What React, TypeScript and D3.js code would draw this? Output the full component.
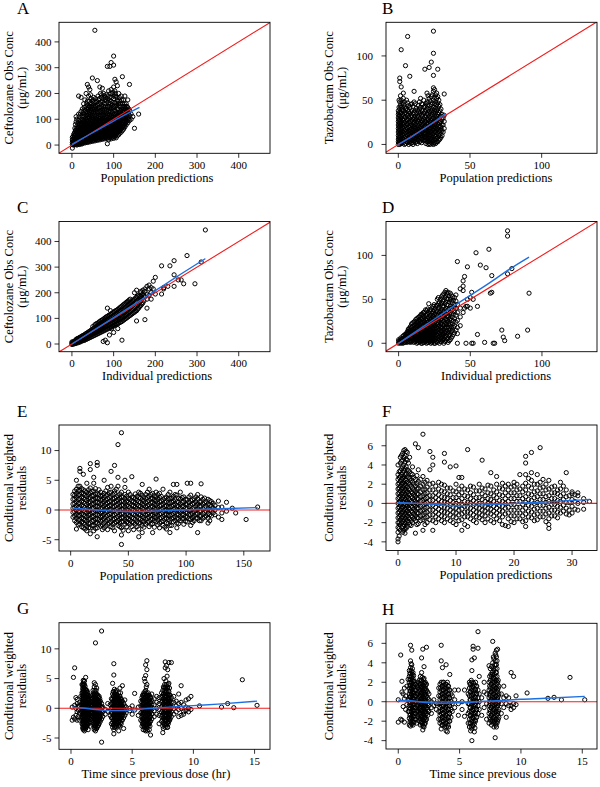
import React from "react";
import * as d3 from "d3";

type Cols = [number, number[]][];
type Pt = [number, number];

// ---------- Panel A: ceftolozane, population predictions vs observed ----------
const cefPredObs: Cols = [
  [1, [-12, 2, 10, 20, 30]], [4, [0, 6, 14, 28, 40]], [7, [3, 12, 22, 35, 50, 65]],
  [10, [5, 15, 25, 40, 55, 90, 110]], [13, [2, 10, 20, 32, 45, 60, 75]],
  [16, [8, 18, 28, 38, 50, 70, 95, 120, 190]], [19, [4, 14, 24, 34, 46, 58, 80, 100]],
  [22, [10, 20, 30, 42, 55, 68, 85, 130, 185]], [25, [6, 16, 26, 36, 48, 60, 75, 110, 140]],
  [28, [12, 22, 32, 44, 56, 70, 90, 120, 160]], [31, [8, 18, 28, 40, 52, 65, 80, 100, 135, 175]],
  [34, [14, 24, 36, 48, 60, 74, 92, 115, 150, 200]], [37, [10, 20, 32, 44, 56, 70, 86, 105, 130, 170, 235]],
  [40, [16, 28, 40, 52, 64, 78, 95, 120, 145, 190, 225]], [43, [12, 24, 36, 48, 60, 72, 88, 110, 135, 160, 215]],
  [46, [18, 30, 42, 54, 66, 80, 100, 125, 150, 180]], [49, [14, 26, 38, 50, 62, 76, 92, 115, 140, 170, 260]],
  [52, [20, 32, 44, 56, 68, 82, 100, 130, 155, 185]], [55, [16, 28, 40, 52, 64, 78, 95, 120, 145, 445]],
  [58, [22, 34, 46, 58, 70, 86, 105, 135, 165]], [61, [18, 30, 42, 54, 66, 80, 98, 125, 155, 250]],
  [64, [24, 36, 48, 60, 74, 90, 110, 140, 175]], [67, [20, 32, 44, 56, 70, 85, 102, 130, 160, 225]],
  [70, [26, 38, 50, 62, 76, 92, 115, 145, 185]], [73, [22, 34, 46, 58, 72, 88, 105, 135, 170, 220]],
  [76, [28, 40, 52, 64, 78, 95, 120, 150, 200]], [79, [24, 36, 48, 60, 74, 90, 110, 140, 175]],
  [82, [30, 42, 54, 66, 80, 98, 125, 160, 195]], [85, [5, 26, 38, 50, 62, 76, 92, 115, 145, 180, 305]],
  [88, [20, 32, 44, 56, 70, 85, 105, 130, 165, 210]], [91, [28, 40, 52, 64, 78, 95, 120, 150, 185, 305]],
  [94, [24, 36, 48, 60, 74, 90, 110, 140, 170, 215, 320]], [97, [30, 42, 54, 66, 80, 98, 125, 155, 200]],
  [100, [26, 38, 50, 62, 76, 92, 115, 145, 180, 225, 345, 310]], [103, [32, 44, 56, 70, 86, 105, 135, 165, 210, 255]],
  [106, [28, 40, 52, 66, 80, 98, 120, 150, 190, 245]], [109, [36, 48, 60, 74, 90, 110, 140, 175, 230]],
  [112, [40, 54, 68, 84, 100, 125, 160, 200]], [115, [46, 60, 76, 92, 110, 135, 170]],
  [118, [50, 66, 84, 100, 120, 150, 190]], [121, [56, 72, 90, 110, 130, 160, 265]],
  [124, [62, 80, 98, 118, 140, 175]], [127, [70, 88, 106, 128, 150, 190]],
  [130, [78, 96, 115, 135, 160]], [134, [86, 105, 125, 145, 175]], [138, [95, 115, 135, 235]],
  [142, [100, 120]], [146, [110]], [150, [65]], [160, [120]],
];
const cefPredObsCore: Cols = [
  [2.5, [4, 12, 22]], [5.5, [2, 9, 18, 30, 45]], [8.5, [8, 17, 28, 42, 58, 80]], [11.5, [0, 10, 20, 30, 48, 65, 100]],
  [14.5, [6, 14, 25, 36, 52, 68, 85]], [17.5, [2, 12, 22, 32, 44, 60, 78, 110]], [20.5, [8, 18, 28, 40, 52, 66, 90, 120]],
  [23.5, [4, 14, 24, 36, 48, 62, 78, 100]], [26.5, [10, 20, 30, 42, 54, 66, 82, 98, 125]],
  [29.5, [14, 24, 36, 48, 60, 76, 94, 110, 145]], [32.5, [10, 20, 30, 44, 56, 70, 86, 104, 125]],
  [35.5, [16, 28, 40, 52, 64, 80, 98, 120, 140, 160]], [38.5, [12, 24, 36, 48, 62, 76, 92, 112, 138, 155]],
  [41.5, [20, 32, 44, 58, 70, 86, 104, 128, 150, 170]], [44.5, [16, 28, 40, 54, 66, 80, 96, 118, 140, 195]],
  [47.5, [22, 34, 46, 58, 72, 88, 108, 132, 160]], [50.5, [18, 30, 42, 56, 70, 86, 104, 124, 148, 175]],
  [53.5, [24, 36, 48, 62, 74, 90, 110, 138, 165]], [56.5, [20, 32, 44, 56, 70, 84, 102, 126, 152, 180]],
  [59.5, [26, 38, 50, 64, 78, 94, 114, 140, 170]], [62.5, [22, 34, 46, 58, 72, 88, 106, 130, 160, 190]],
  [65.5, [28, 40, 52, 66, 80, 96, 118, 145, 180]], [68.5, [24, 36, 48, 62, 76, 92, 110, 135, 165, 200]],
  [71.5, [30, 42, 54, 68, 82, 100, 125, 155, 195]], [74.5, [26, 38, 50, 64, 80, 96, 115, 140, 180]],
  [77.5, [32, 44, 56, 70, 86, 104, 130, 160, 190]], [80.5, [28, 40, 52, 66, 82, 100, 120, 150, 185]],
  [83.5, [34, 46, 58, 72, 88, 108, 135, 170]], [86.5, [30, 42, 54, 68, 84, 100, 122, 150, 190]],
  [89.5, [36, 48, 60, 74, 90, 110, 140, 175]], [92.5, [32, 44, 58, 72, 86, 104, 130, 160, 200]],
  [95.5, [38, 50, 64, 78, 94, 116, 145, 185]], [98.5, [34, 48, 60, 74, 90, 108, 135, 165, 205]],
  [101.5, [40, 54, 68, 82, 98, 120, 150, 190]], [104.5, [46, 60, 74, 90, 110, 130, 160, 200]],
  [107.5, [44, 58, 72, 88, 104, 125, 155, 185]], [110.5, [50, 64, 80, 96, 115, 140, 170]],
  [113.5, [54, 70, 86, 104, 122, 150, 185]], [116.5, [58, 74, 92, 110, 130, 160]],
  [119.5, [64, 80, 98, 118, 140, 175]], [122.5, [70, 88, 106, 126, 150]], [125.5, [76, 94, 112, 134, 160]],
  [128.5, [84, 102, 122, 142]], [132, [92, 110, 130, 150]], [136, [100, 120, 140]],
];
const cefPredObsSmooth: Pt[] = [[0, 3], [40, 39], [80, 75], [120, 111], [162, 146]];

// ---------- Panel B: tazobactam, population predictions vs observed ----------
const tazPredObs: Cols = [
  [0, [0, 3, 6, 10, 14, 18, 22, 26, 30, 34, 38]], [1, [0, 4, 8, 12, 16, 20, 24, 28, 33, 40, 48, 71, 75]],
  [2, [1, 5, 9, 13, 17, 21, 25, 30, 36, 42, 50, 107, 65]], [3.5, [2, 6, 10, 14, 18, 22, 27, 32, 38, 45, 52, 58]],
  [5, [1, 5, 9, 13, 17, 21, 26, 31, 36, 40, 89]], [6.5, [2, 6, 10, 14, 18, 23, 28, 33, 39, 47, 122]],
  [8, [3, 7, 11, 15, 19, 24, 29, 35, 42, 77]], [9.5, [2, 6, 10, 14, 18, 22, 27, 32, 38, 46]],
  [11, [4, 8, 12, 16, 20, 25, 30, 36, 48, 60]], [12.5, [3, 7, 11, 15, 19, 24, 29, 35, 41]],
  [14, [5, 9, 13, 17, 21, 26, 31, 37, 44]], [15.5, [4, 8, 12, 16, 20, 25, 30, 36, 42, 52]],
  [17, [6, 10, 14, 18, 22, 27, 32, 38, 45]], [18.5, [5, 9, 13, 17, 21, 26, 31, 37, 43, 85]],
  [20, [3, 7, 11, 15, 19, 24, 29, 35, 41, 48, 58]], [21.5, [1, 5, 9, 13, 17, 21, 26, 31, 37, 44, 52, 87]],
  [23, [2, 6, 10, 14, 18, 22, 27, 32, 38, 45, 54, 93]], [24.5, [0, 4, 8, 12, 16, 20, 25, 30, 36, 42, 50, 60, 64, 103, 128, 78]],
  [26, [1, 5, 9, 14, 19, 24, 29, 35, 41, 48, 56]], [27.5, [3, 8, 13, 18, 23, 28, 34, 40, 47, 54, 85]],
  [29, [6, 11, 16, 21, 26, 32, 38, 45]], [30.5, [10, 16, 22, 28, 34]], [32, [18, 26, 33, 57]],
];
const tazPredObsCore: Cols = [
  [0.5, [2, 5, 8, 12, 16, 20, 24, 28, 32, 36, 42, 50]], [1.5, [2, 6, 10, 14, 18, 22, 26, 31, 36, 44, 55]],
  [2.75, [3, 7, 11, 15, 19, 23, 28, 34, 40, 47]], [4.25, [0, 4, 8, 12, 16, 20, 24, 29, 35, 42, 48]],
  [5.75, [3, 7, 11, 15, 19, 23, 28, 34, 41, 50]], [7.25, [0, 4, 8, 12, 16, 20, 25, 31, 37, 44]],
  [8.75, [1, 5, 9, 13, 17, 21, 26, 31, 37, 45]], [10.25, [0, 4, 8, 12, 16, 20, 24, 29, 35, 43]],
  [11.75, [2, 6, 10, 14, 18, 22, 27, 32, 38, 46]], [13.25, [1, 5, 9, 13, 17, 21, 26, 32, 39]],
  [14.75, [3, 7, 11, 15, 19, 23, 28, 34, 40, 48]], [16.25, [2, 6, 10, 14, 18, 22, 27, 33, 39, 46]],
  [17.75, [4, 8, 12, 16, 20, 24, 29, 35, 42, 50]], [19.25, [1, 5, 9, 13, 17, 21, 26, 32, 39, 46]],
  [20.75, [0, 3, 7, 11, 15, 19, 23, 28, 34, 40, 47, 55]], [22.25, [0, 3, 7, 11, 15, 19, 24, 29, 35, 41, 49]],
  [23.75, [1, 4, 8, 12, 16, 20, 24, 29, 34, 40, 47, 56]], [25.25, [2, 6, 10, 14, 18, 22, 27, 33, 39, 46, 53, 62]],
  [26.75, [3, 7, 11, 16, 21, 26, 32, 38, 45, 52, 58]], [28.25, [5, 10, 15, 20, 25, 30, 36, 43, 50]],
  [29.75, [8, 14, 20, 26, 32, 40]], [31.25, [14, 22, 30]],
];
const tazPredObsSmooth: Pt[] = [[0, 0], [10, 9.5], [20, 20], [28, 29], [33, 35]];

// ---------- Panel C: ceftolozane, individual predictions vs observed ----------
const cefIpredObs: Cols = [
  [0, [-2, 3, 8]], [5, [0, 5, 10]], [10, [2, 7, 12, 18]], [15, [5, 10, 15, 22]], [20, [8, 14, 20, 27]],
  [25, [12, 18, 25, 32]], [30, [14, 21, 28, 36]], [35, [18, 26, 34, 42]], [40, [22, 30, 38, 47]],
  [45, [26, 35, 44, 52]], [50, [30, 40, 49, 58, 68]], [55, [34, 44, 54, 64, 75]], [60, [38, 48, 58, 68, 80]],
  [65, [42, 53, 63, 74, 86]], [70, [46, 57, 68, 80, 92]], [75, [50, 61, 72, 84, 96, 10]],
  [80, [54, 66, 78, 90, 103, 15]], [85, [58, 70, 83, 95, 108, 5, 140]], [90, [62, 75, 88, 100, 113, 35]],
  [95, [66, 79, 92, 105, 118, 60]], [100, [70, 83, 96, 110, 124, 45]], [105, [74, 88, 101, 115, 130]],
  [110, [78, 92, 106, 120, 135, 60]], [115, [84, 98, 112, 126, 142]], [120, [88, 102, 118, 132, 148, 15]],
  [125, [94, 108, 124, 138, 155]], [130, [100, 114, 130, 145, 162]], [135, [106, 122, 138, 152, 168]],
  [140, [112, 128, 145, 160, 175]], [145, [118, 135, 152, 168]], [150, [124, 142, 158, 175, 200]],
  [155, [130, 148, 165, 182, 210, 90]], [160, [140, 158, 175, 190]], [165, [150, 170, 185, 200, 205]],
  [170, [160, 178, 195, 210]], [175, [95, 185, 205, 215]], [180, [140, 175, 195, 225]],
  [185, [190, 215, 230]], [190, [175, 200, 220]], [195, [215, 245]], [200, [260, 195]],
  [215, [305, 195]], [220, [220, 215]], [230, [225]], [235, [305]], [245, [325, 270, 225]],
  [255, [250]], [262, [250]], [268, [235]], [276, [345]], [295, [235]], [310, [320]], [320, [445]],
];
const cefIpredObsCore: Cols = [
  [2.5, [0, 4, 8]], [7.5, [3, 8, 13]], [12.5, [6, 11, 16, 21]], [17.5, [8, 13, 19, 25]], [22.5, [12, 17, 23, 29]],
  [27.5, [15, 21, 28, 34]], [32.5, [19, 25, 32, 39]], [37.5, [22, 29, 37, 44]], [42.5, [26, 34, 42, 50]],
  [47.5, [30, 38, 47, 56]], [52.5, [34, 43, 52, 62]], [57.5, [38, 47, 57, 67, 78]], [62.5, [42, 51, 61, 71, 82]],
  [67.5, [46, 56, 66, 77, 88]], [72.5, [50, 60, 71, 82, 94]], [77.5, [54, 65, 76, 88, 100]],
  [82.5, [58, 69, 81, 93, 106]], [87.5, [62, 74, 86, 98, 111]], [92.5, [66, 78, 91, 103, 116, 130]],
  [97.5, [70, 82, 95, 108, 122]], [102.5, [74, 86, 99, 113, 127]], [107.5, [78, 91, 104, 118, 132]],
  [112.5, [82, 95, 109, 123, 138]], [117.5, [86, 100, 115, 129, 145]], [122.5, [92, 106, 121, 135, 152]],
  [127.5, [98, 112, 127, 142, 158]], [132.5, [104, 119, 134, 149, 165]], [137.5, [110, 126, 142, 156, 172]],
  [142.5, [116, 132, 148, 164]], [147.5, [122, 139, 155, 172]], [152.5, [128, 145, 162, 180]],
  [157.5, [136, 153, 170, 186]], [162.5, [146, 164, 180]], [167.5, [155, 174, 192]], [172.5, [168, 188]],
];
const cefIpredObsSmooth: Pt[] = [[0, 0], [100, 103], [200, 208], [250, 261], [320, 333]];

// ---------- Panel D: tazobactam, individual predictions vs observed ----------
const tazIpredObs: Cols = [
  [0, [0, 2, 4]], [1.5, [0, 2, 4, 6]], [3, [0, 2, 5, 8]], [4.5, [1, 4, 7, 10]], [6, [1, 4, 7, 10, 13]],
  [7.5, [2, 5, 8, 11, 14, 17]], [9, [2, 5, 8, 11, 14, 18, 22]], [10.5, [1, 4, 7, 10, 13, 16, 20, 24]],
  [12, [2, 5, 8, 11, 14, 18, 22, 27]], [13.5, [1, 4, 7, 10, 13, 16, 20, 24, 29]],
  [15, [2, 5, 8, 11, 14, 18, 22, 26, 31]], [16.5, [0, 3, 6, 9, 12, 15, 19, 23, 28, 33]],
  [18, [1, 4, 7, 10, 13, 16, 20, 24, 29, 35]], [19.5, [0, 3, 6, 9, 12, 15, 18, 22, 26, 31, 37]],
  [21, [1, 4, 7, 10, 13, 17, 21, 25, 30, 35, 45]], [22.5, [0, 3, 6, 9, 12, 15, 19, 23, 27, 32, 38]],
  [24, [2, 5, 8, 11, 14, 18, 22, 26, 31, 36, 42]], [25.5, [0, 4, 8, 12, 16, 20, 24, 29, 34, 40]],
  [27, [1, 5, 9, 13, 17, 21, 26, 31, 36, 43, 50]], [28.5, [0, 4, 8, 12, 16, 20, 25, 30, 35, 41, 47]],
  [30, [2, 6, 10, 14, 18, 23, 28, 33, 39, 46, 53]], [31.5, [0, 5, 10, 15, 20, 25, 30, 36, 42, 49, 56]],
  [33, [3, 8, 13, 18, 23, 28, 34, 40, 47, 54, 60]], [34.5, [1, 6, 12, 18, 24, 30, 36, 43, 50, 58]],
  [36, [4, 10, 16, 22, 28, 35, 42, 50, 57]], [37.5, [8, 15, 22, 30, 38, 46, 53]],
  [39, [12, 20, 28, 36, 44, 52]], [41, [0, 11, 18, 26, 35, 44, 93]], [43, [20, 30, 40, 62]],
  [45, [35, 60, 71, 65]], [46, [76, 40]], [47, [0, 42]], [48, [87, 42, 50]], [50, [40, 52]],
  [51, [0, 58]], [52, [0, 50]], [54, [103]], [55, [10, 42]], [57, [89]], [60, [1]], [61, [86]],
  [63, [107]], [64, [57]], [65, [58, 77]], [66, [0]], [67, [0]], [72, [15]], [73, [7]], [74, [3]],
  [76, [128, 122, 79]], [79, [85]], [83, [8]], [90, [15]], [91, [57]],
];
const tazIpredObsCore: Cols = [
  [0.75, [1, 3]], [2.25, [1, 3, 5]], [3.75, [1, 3, 6, 9]], [5.25, [2, 5, 8, 11]], [6.75, [2, 5, 8, 11, 14, 16]],
  [8.25, [1, 3, 6, 9, 12, 15, 19]], [9.75, [3, 6, 9, 12, 15, 19, 23]], [11.25, [2, 5, 8, 11, 14, 17, 21, 25]],
  [12.75, [0, 3, 6, 9, 12, 16, 20, 24, 28]], [14.25, [2, 5, 8, 11, 14, 18, 22, 26, 30]],
  [15.75, [0, 3, 6, 9, 12, 16, 20, 24, 28, 33]], [17.25, [1, 4, 7, 10, 13, 17, 21, 26, 31, 35]],
  [18.75, [2, 5, 8, 11, 14, 18, 22, 27, 32, 38]], [20.25, [1, 4, 7, 10, 13, 16, 20, 24, 28, 33, 39]],
  [21.75, [2, 5, 8, 11, 15, 19, 23, 27, 32, 38]], [23.25, [1, 4, 7, 10, 13, 17, 21, 25, 29, 34, 40]],
  [24.75, [0, 3, 6, 10, 13, 16, 20, 24, 28, 33, 38, 44]], [26.25, [2, 6, 10, 14, 18, 22, 27, 32, 37, 43]],
  [27.75, [3, 7, 11, 15, 19, 23, 28, 33, 39, 45, 52]], [29.25, [2, 6, 10, 14, 18, 22, 27, 32, 37, 44, 50]],
  [30.75, [4, 8, 12, 17, 21, 26, 31, 36, 42, 48, 55]], [32.25, [2, 7, 12, 17, 22, 27, 32, 38, 45, 52, 58]],
  [33.75, [5, 10, 15, 21, 26, 31, 37, 44, 51, 57]], [35.25, [3, 9, 15, 21, 27, 33, 40, 47, 54]],
  [36.75, [6, 13, 19, 26, 33, 40, 48, 55]], [38.25, [10, 18, 25, 33, 41, 49]], [40, [15, 24, 32, 40, 48, 55]],
];
const tazIpredObsSmooth: Pt[] = [[0, 0], [20, 22], [40, 44], [60, 65], [80, 87], [91, 98]];

// ---------- Panel E: ceftolozane, population predictions vs CWRES ----------
const cefPredCwres: Cols = [
  [2, [-1.2, -0.4, 0.3, 1.0, 1.8, 2.6]], [5, [-2.1, -1.4, -0.7, 0, 0.7, 1.4, 2.1, 2.8, 3.5, 5.0, -3.2]],
  [8, [-2.4, -1.6, -0.9, -0.2, 0.5, 1.2, 1.9, 2.6, 3.3, 4.0, 7.0, 6.5]],
  [11, [-3.0, -2.2, -1.5, -0.8, -0.1, 0.6, 1.3, 2.0, 2.7, 3.4, 6.0]],
  [14, [-3.5, -2.7, -1.9, -1.2, -0.5, 0.2, 0.9, 1.6, 2.3, 3.0, 4.5]],
  [17, [-4.0, -3.0, -2.2, -1.4, -0.7, 0, 0.7, 1.4, 2.1, 2.9, 3.7, 7.8, 6.8]],
  [20, [-3.5, -2.6, -1.8, -1.1, -0.4, 0.3, 1.0, 1.7, 2.4, 3.2, 4.5, 5.5]],
  [23, [-4.5, -3.0, -2.2, -1.5, -0.8, -0.1, 0.6, 1.3, 2.0, 2.7, 7.5, 8.0]],
  [26, [-2.7, -1.9, -1.2, -0.5, 0.2, 0.9, 1.6, 2.3, 3.0]],
  [29, [-3.0, -2.2, -1.4, -0.7, 0, 0.7, 1.4, 2.1, 2.8, 5.0]],
  [32, [-3.3, -2.4, -1.6, -0.9, -0.2, 0.5, 1.2, 1.9, 2.6, 3.8]],
  [35, [-2.8, -2.0, -1.3, -0.6, 0.1, 0.8, 1.5, 2.2, 3.0, 6.5, 4.0]],
  [38, [-3.5, -2.2, -1.5, -0.8, -0.1, 0.6, 1.3, 2.0, 2.8, 7.5, 3.2]],
  [41, [-2.6, -1.8, -1.1, -0.4, 0.3, 1.0, 1.7, 2.4, 11.0, 5.5, 4.0]],
  [44, [-5.8, -4.2, -3.0, -2.0, -1.3, -0.6, 0.1, 0.8, 1.5, 2.2, 3.0, 13.0]],
  [47, [-2.4, -1.6, -0.9, -0.2, 0.5, 1.2, 1.9, 2.6, 3.8, 5.0]],
  [50, [-3.5, -2.2, -1.5, -0.8, -0.1, 0.6, 1.3, 2.0, 3.0]],
  [53, [-2.8, -2.0, -1.3, -0.6, 0.1, 0.8, 1.5, 2.2, 5.6]],
  [56, [-2.4, -1.6, -0.9, -0.2, 0.5, 1.2, 1.9, 2.7]],
  [59, [-4.5, -3.2, -2.2, -1.4, -0.7, 0, 0.7, 1.4, 2.1, 3.0]],
  [62, [-3.8, -2.6, -1.8, -1.1, -0.4, 0.3, 1.0, 1.7, 2.5, 4.3]],
  [65, [-2.4, -1.6, -0.9, -0.2, 0.5, 1.2, 1.9, 2.6]],
  [68, [-2.8, -1.9, -1.2, -0.5, 0.2, 0.9, 1.6, 2.3, 3.5]],
  [71, [-3.8, -2.3, -1.5, -0.8, -0.1, 0.6, 1.3, 2.0, 2.8]],
  [74, [-2.0, -1.3, -0.6, 0.1, 0.8, 1.5, 2.2, 5.2, 3.0]],
  [77, [-3.0, -2.2, -1.4, -0.7, 0, 0.7, 1.4, 2.1, 2.8]],
  [80, [-2.6, -1.8, -1.1, -0.4, 0.3, 1.0, 1.7, 3.5]],
  [83, [-3.2, -2.2, -1.4, -0.7, 0, 0.7, 1.4, 2.2]],
  [86, [-3.8, -2.6, -1.7, -0.9, -0.2, 0.5, 1.2, 2.0, 3.0]],
  [89, [-2.0, -1.3, -0.6, 0.1, 0.8, 1.5, 2.3, 4.3]],
  [92, [-3.0, -2.2, -1.4, -0.7, 0, 0.7, 1.4, 2.5, 4.3]],
  [95, [-1.8, -1.1, -0.4, 0.3, 1.0, 1.8, 3.0]], [98, [-2.4, -1.5, -0.8, -0.1, 0.6, 1.4, 2.2]],
  [101, [-2.0, -1.2, -0.5, 0.2, 0.9, 1.7, 4.5]], [104, [-2.6, -1.6, -0.8, 0, 0.8, 1.6, 2.5, 4.5]],
  [107, [-1.8, -1.0, -0.3, 0.4, 1.1, 1.9]], [110, [-3.8, -1.4, -0.6, 0.2, 1.0, 1.8, 2.6]],
  [113, [-1.8, -1.0, -0.2, 0.6, 1.4, 4.4, 2.2]], [116, [-1.2, -0.4, 0.4, 1.2, 2.0]],
  [119, [-2.2, -1.4, -0.6, 0.2, 1.0, 1.8]], [122, [-1.0, -0.2, 0.6, 1.4]], [125, [-0.8, 0, 0.8]],
  [128, [-1.2, 0.4, 1.5]], [131, [-1.6, -0.5, 0.5]], [135, [1.3, -0.2]], [140, [0.3]],
  [143, [-0.5]], [152, [-1.6]], [162, [0.5]],
];
const cefPredCwresCore: Cols = [
  [3.5, [-1.8, -1.0, -0.3, 0.4, 1.1, 1.8, 2.5, 3.2]], [6.5, [-2.5, -1.7, -1.0, -0.3, 0.4, 1.1, 1.8, 2.5, 3.2, 4.0]],
  [9.5, [-2.8, -2.0, -1.3, -0.6, 0.1, 0.8, 1.5, 2.2, 2.9, 3.6]], [12.5, [-3.2, -2.4, -1.7, -1.0, -0.3, 0.4, 1.1, 1.8, 2.5, 3.2]],
  [15.5, [-3.0, -2.3, -1.6, -0.9, -0.2, 0.5, 1.2, 1.9, 2.6, 3.4]], [18.5, [-2.6, -1.9, -1.1, -0.4, 0.3, 1.0, 1.7, 2.4, 3.1]],
  [21.5, [-3.1, -2.2, -1.5, -0.8, -0.1, 0.6, 1.3, 2.0, 2.7, 3.6]], [24.5, [-2.4, -1.6, -0.9, -0.2, 0.5, 1.2, 1.9, 2.6, 3.4]],
  [27.5, [-3.3, -2.5, -1.7, -1.0, -0.3, 0.4, 1.1, 1.8, 2.5]], [30.5, [-2.7, -1.9, -1.1, -0.4, 0.3, 1.0, 1.7, 2.4, 3.2]],
  [33.5, [-2.2, -1.4, -0.7, 0, 0.7, 1.4, 2.1, 2.9]], [36.5, [-3.0, -2.4, -1.6, -0.9, -0.2, 0.5, 1.2, 1.9, 2.6]],
  [39.5, [-2.0, -1.3, -0.6, 0.1, 0.8, 1.5, 2.2, 3.5]], [42.5, [-2.8, -2.2, -1.5, -0.8, -0.1, 0.6, 1.3, 2.0, 2.7]],
  [45.5, [-3.4, -2.0, -1.3, -0.6, 0.1, 0.8, 1.5, 2.2]], [48.5, [-2.8, -2.0, -1.3, -0.6, 0.1, 0.8, 1.5, 2.3]],
  [51.5, [-2.4, -1.7, -1.0, -0.3, 0.4, 1.1, 1.8, 2.6]], [54.5, [-3.3, -2.1, -1.4, -0.7, 0, 0.7, 1.4, 2.1]],
  [57.5, [-2.8, -2.0, -1.2, -0.5, 0.2, 0.9, 1.6, 2.3]], [60.5, [-2.2, -1.5, -0.8, -0.1, 0.6, 1.3, 2.0, 2.8]],
  [63.5, [-2.9, -2.0, -1.3, -0.6, 0.1, 0.8, 1.5, 2.2]], [66.5, [-2.1, -1.4, -0.7, 0, 0.7, 1.4, 2.1, 3.0]],
  [69.5, [-2.4, -1.6, -0.9, -0.2, 0.5, 1.2, 1.9, 2.6]], [72.5, [-2.9, -1.8, -1.1, -0.4, 0.3, 1.0, 1.7, 2.4]],
  [75.5, [-2.5, -1.7, -1.0, -0.3, 0.4, 1.1, 1.8, 2.6]], [78.5, [-2.0, -1.3, -0.6, 0.1, 0.8, 1.5, 2.3]],
  [81.5, [-2.9, -1.5, -0.8, -0.1, 0.6, 1.3, 2.0]], [84.5, [-2.3, -1.6, -0.9, -0.2, 0.5, 1.2, 1.9, 2.6]],
  [87.5, [-2.6, -1.5, -0.8, -0.1, 0.6, 1.3, 2.0]], [90.5, [-1.8, -1.1, -0.4, 0.3, 1.0, 1.7, 2.6]],
  [93.5, [-2.3, -1.5, -0.8, -0.1, 0.6, 1.3, 2.0]], [96.5, [-1.5, -0.8, -0.1, 0.6, 1.3, 2.1]],
  [99.5, [-1.9, -1.1, -0.4, 0.3, 1.0, 1.8]], [102.5, [-1.5, -0.8, -0.1, 0.6, 1.3, 2.2]],
  [105.5, [-2.1, -1.3, -0.6, 0.2, 1.0, 1.7]], [108.5, [-1.4, -0.7, 0, 0.7, 1.4, 2.2]],
  [111.5, [-1.8, -1.0, -0.2, 0.6, 1.4]], [114.5, [-1.4, -0.6, 0.2, 1.0, 1.8]], [117.5, [-1.0, -0.2, 0.6, 1.4]],
  [120.5, [-1.8, -0.8, 0, 0.8, 1.6]], [123.5, [-0.5, 0.3, 1.1]],
];
const cefPredCwresSmooth: Pt[] = [[2, 0.3], [20, 0.05], [40, -0.2], [55, -0.3], [70, -0.2], [90, -0.05], [110, 0.1], [130, 0.2], [162, 0.4]];

// ---------- Panel F: tazobactam, population predictions vs CWRES ----------
const tazPredCwres: Cols = [
  [0, [-4.0, -3.7, -3.0, -2.5, -2.0, -1.5, -1.0, -0.5, 0, 0.5, 1.0, 1.5, 2.0, 2.5, 3.0, 4.0]],
  [0.4, [-2.8, -2.2, -1.7, -1.2, -0.7, -0.2, 0.3, 0.8, 1.3, 1.8, 2.3, 2.8, 3.4, 4.2, 4.8]],
  [0.8, [-3.0, -2.4, -1.9, -1.4, -0.9, -0.4, 0.1, 0.6, 1.1, 1.6, 2.1, 2.6, 3.2, 3.8, 4.5, 5.2]],
  [1.2, [-3.1, -2.6, -2.0, -1.5, -1.0, -0.5, 0, 0.5, 1.0, 1.5, 2.0, 2.5, 3.0, 3.6, 4.3, 5.0, 5.6]],
  [1.6, [-2.4, -1.8, -1.3, -0.8, -0.3, 0.2, 0.7, 1.2, 1.7, 2.2, 2.8, 3.5, 4.5, 5.3]],
  [2.0, [-2.2, -1.6, -1.1, -0.6, -0.1, 0.4, 0.9, 1.4, 2.0, 2.6, 3.3, 4.8]],
  [2.5, [-2.0, -1.4, -0.9, -0.4, 0.1, 0.6, 1.1, 1.6, 2.2, 3.0, 3.8]],
  [3.0, [-3.1, -1.8, -1.3, -0.8, -0.3, 0.2, 0.7, 1.2, 1.8, 2.5, 6.2]],
  [3.5, [-2.1, -1.5, -1.0, -0.5, 0, 0.5, 1.0, 1.6, 2.3, 5.8, 3.5]],
  [4.3, [-2.8, -1.7, -1.2, -0.7, -0.2, 0.3, 0.8, 1.4, 2.0, 2.8, 7.2]],
  [5.0, [-2.0, -1.4, -0.9, -0.4, 0.1, 0.6, 1.1, 1.7, 2.4]], [5.5, [5.4, 3.5]],
  [6.0, [-2.8, -1.8, -1.2, -0.7, -0.2, 0.3, 0.8, 1.4, 2.1, 4.8, 4.0]],
  [7.0, [-1.6, -1.1, -0.6, -0.1, 0.4, 0.9, 1.5, 2.2]],
  [8.0, [-2.0, -1.4, -0.9, -0.4, 0.1, 0.6, 1.2, 1.9, 5.2, 4.3]],
  [9.0, [-1.8, -1.2, -0.7, -0.2, 0.3, 0.9, 1.6, 3.8]],
  [10.0, [-2.2, -1.5, -1.0, -0.5, 0, 0.6, 1.2, 2.0, 3.9]],
  [11.0, [-2.8, -1.7, -1.1, -0.6, -0.1, 0.5, 1.1, 1.8, 2.7]],
  [12.0, [-2.4, -1.4, -0.9, -0.4, 0.1, 0.7, 1.4, 5.6]],
  [13.0, [-1.8, -1.2, -0.7, -0.2, 0.3, 0.9, 1.7]], [14.0, [-1.5, -1.0, -0.5, 0, 0.6, 1.3, 2.0]],
  [14.5, [4.5]], [15.0, [-2.0, -1.3, -0.8, -0.3, 0.2, 0.8, 1.5]],
  [16.0, [-1.8, -1.1, -0.6, -0.1, 0.4, 1.0, 1.8, 3.2]], [17.0, [-1.6, -1.0, -0.5, 0, 0.6, 1.2, 2.0, 2.8]],
  [18.0, [-2.2, -1.4, -0.8, -0.3, 0.2, 0.8, 1.5, 2.1]], [19.0, [-2.4, -1.6, -1.0, -0.4, 0.2, 0.8, 1.4, 2.0]],
  [20.0, [-2.0, -1.3, -0.7, -0.1, 0.5, 1.1, 1.8, 2.2]], [21.0, [-1.6, -1.0, -0.4, 0.2, 0.8, 1.5, 3.0]],
  [22.0, [-2.4, -1.8, -1.1, -0.5, 0.1, 0.7, 1.4, 2.1, 4.9, 4.2, 3.0]],
  [23.0, [-1.5, -0.9, -0.3, 0.3, 0.9, 1.6, 2.4, 5.3, 3.2]], [24.0, [-1.7, -1.1, -0.5, 0.1, 0.7, 1.3, 2.0, 3.0]],
  [24.5, [5.8]], [25.0, [-1.4, -0.8, -0.2, 0.4, 1.0, 1.7, 2.5]],
  [26.0, [-2.6, -2.2, -1.6, -1.0, -0.4, 0.2, 0.8, 1.5, 2.4]], [27.0, [-1.3, -0.7, -0.1, 0.5, 1.1, 1.8]],
  [28.0, [-1.0, -0.4, 0.2, 0.8, 1.5, 2.2]], [29.0, [-1.1, -0.5, 0.1, 0.7, 1.4, 3.2]],
  [30.0, [-1.0, -0.3, 0.4, 1.0, 1.2]], [31.0, [-0.7, 0, 0.8, 1.1]], [32.0, [-0.6, 0.1, 0.5]], [33.0, [0.2]],
];
const tazPredCwresCore: Cols = [
  [0.2, [-3.4, -2.6, -2.0, -1.4, -0.9, -0.4, 0.1, 0.6, 1.1, 1.6, 2.1, 2.7, 3.3]],
  [0.6, [-2.5, -2.0, -1.5, -1.0, -0.5, 0, 0.5, 1.0, 1.5, 2.0, 2.5, 3.0, 3.6, 4.4, 5.0]],
  [1.0, [-2.8, -2.2, -1.7, -1.2, -0.7, -0.2, 0.3, 0.8, 1.3, 1.8, 2.3, 2.8, 3.4, 4.0, 4.8, 5.5]],
  [1.4, [-2.6, -2.1, -1.6, -1.1, -0.6, -0.1, 0.4, 0.9, 1.4, 1.9, 2.4, 3.0, 3.8, 4.6, 5.4]],
  [1.8, [-2.0, -1.5, -1.0, -0.5, 0, 0.5, 1.0, 1.5, 2.1, 2.7, 3.4, 4.2]],
  [2.25, [-2.3, -1.8, -1.3, -0.8, -0.3, 0.2, 0.7, 1.2, 1.8, 2.4, 3.1]],
  [2.75, [-1.6, -1.1, -0.6, -0.1, 0.4, 0.9, 1.4, 2.0, 2.7]], [3.25, [-2.2, -1.5, -1.0, -0.5, 0, 0.5, 1.0, 1.5, 2.1, 2.9]],
  [3.9, [-1.8, -1.3, -0.8, -0.3, 0.2, 0.7, 1.2, 1.8, 2.5]], [4.65, [-2.2, -1.5, -1.0, -0.5, 0, 0.5, 1.0, 1.5, 2.2]],
  [5.5, [-1.7, -1.2, -0.7, -0.2, 0.3, 0.8, 1.4, 2.0]], [6.5, [-2.0, -1.4, -0.9, -0.4, 0.1, 0.6, 1.1, 1.8]],
  [7.5, [-1.8, -1.3, -0.8, -0.3, 0.2, 0.7, 1.3, 2.0]], [8.5, [-1.6, -1.0, -0.5, 0, 0.5, 1.0, 1.6]],
  [9.5, [-2.0, -1.4, -0.9, -0.4, 0.1, 0.6, 1.3]], [10.5, [-1.8, -1.2, -0.7, -0.2, 0.3, 0.9, 1.5, 2.7]],
  [11.5, [-2.2, -1.4, -0.9, -0.3, 0.2, 0.8, 1.5]], [12.5, [-1.6, -1.0, -0.5, 0, 0.5, 1.1, 1.8]],
  [13.5, [-2.0, -1.4, -0.9, -0.4, 0.1, 0.6, 1.3]], [14.5, [-1.7, -1.2, -0.7, -0.2, 0.4, 1.0, 1.6]],
  [15.5, [-1.6, -1.0, -0.5, 0, 0.5, 1.1, 1.9]], [16.5, [-2.0, -1.3, -0.8, -0.3, 0.2, 0.8, 1.4]],
  [17.5, [-1.8, -1.2, -0.7, -0.2, 0.3, 0.9, 1.6]], [18.5, [-2.3, -1.1, -0.5, 0, 0.5, 1.1, 1.8]],
  [19.5, [-1.9, -1.3, -0.7, -0.1, 0.5, 1.1, 1.7]], [20.5, [-1.6, -1.0, -0.4, 0.2, 0.8, 1.4, 2.0]],
  [21.5, [-1.9, -1.3, -0.7, -0.1, 0.5, 1.2, 1.8]], [22.5, [-1.4, -0.8, -0.2, 0.4, 1.0, 1.8, 2.6]],
  [23.5, [-1.8, -1.2, -0.6, 0, 0.6, 1.2, 2.0]], [24.5, [-1.4, -0.8, -0.2, 0.4, 1.0, 1.6, 2.2]],
  [25.5, [-1.9, -1.1, -0.5, 0.1, 0.7, 1.4, 2.0]], [26.5, [-1.3, -0.7, -0.1, 0.5, 1.1, 1.7]],
  [27.5, [-1.5, -0.9, -0.3, 0.3, 1.0, 1.4]], [28.5, [-0.8, -0.2, 0.4, 1.0, 1.8]],
  [29.5, [-1.2, -0.7, 0.1, 0.8]], [30.5, [-0.6, 0.2, 0.9]],
];
const tazPredCwresSmooth: Pt[] = [[0, 0.1], [5, -0.05], [10, -0.25], [15, -0.15], [20, 0], [25, 0.15], [30, 0.3], [33, 0.4]];

// ---------- Panel G: ceftolozane, time since previous dose vs CWRES ----------
const cefTadCwres: Cols = [
  [0.1, [-2.0, 0.2]], [0.2, [5.2, -1.5]], [0.3, [6.8, -1.8, 0.5]], [0.4, [-1.2, 1.8, 0.0]],
  [0.5, [-2.0, -0.6, 0.8, 1.5]], [0.6, [-1.4, 0.3, -0.3]], [0.7, [-0.8, 0.4, 1.0, -2.0]],
  [0.8, [-1.6, -0.5, 0.6, 2.0]], [0.9, [-2.6, -1.4, -0.6, 0.2, 1.0, 1.8, 2.6, 4.0]],
  [1.0, [-3.6, -3.0, -2.4, -1.8, -1.2, -0.6, 0, 0.6, 1.2, 1.8, 2.4, 3.0, 3.6, 4.2, 4.7]],
  [1.1, [-3.8, -3.2, -2.6, -2.0, -1.4, -0.8, -0.2, 0.4, 1.0, 1.6, 2.2, 2.8, 3.4, 4.0, 4.6]],
  [1.2, [-3.4, -2.8, -2.2, -1.6, -1.0, -0.4, 0.2, 0.8, 1.4, 2.0, 2.6, 3.2, 5.2]],
  [1.3, [-3.0, -2.4, -1.8, -1.2, -0.6, 0, 0.6, 1.2, 1.8, 2.4, 3.0]],
  [1.4, [-3.6, -2.7, -2.0, -1.4, -0.8, -0.2, 0.4, 1.0, 1.6, 2.2]],
  [1.5, [-2.2, -1.6, -1.0, -0.4, 0.2, 0.8, 1.4, 2.0]], [1.6, [-3.0, -1.8, -1.2, -0.6, 0, 0.6, 1.2, 2.2]],
  [1.7, [-1.4, -0.8, -0.2, 0.4, 1.0, 1.6]], [1.8, [-2.8, -2.0, -1.4, -0.8, -0.2, 0.4, 1.0, 1.6, 2.2, 3.0]],
  [1.9, [-3.6, -2.6, -1.8, -1.2, -0.6, 0, 0.6, 1.2, 1.8, 2.4, 3.6, 4.3]],
  [2.0, [-3.8, -3.0, -2.4, -1.8, -1.2, -0.6, 0, 0.6, 1.2, 1.8, 2.6, 11.0, 4.0]],
  [2.1, [-3.4, -2.6, -2.0, -1.4, -0.8, -0.2, 0.4, 1.0, 1.6, 2.4, 3.4]],
  [2.2, [-3.0, -2.2, -1.6, -1.0, -0.4, 0.2, 0.8, 1.4, 2.2]], [2.3, [-2.6, -1.8, -1.2, -0.6, 0, 0.6, 1.2, 2.0]],
  [2.4, [-2.2, -1.4, -0.8, -0.2, 0.4, 1.2]], [2.5, [-5.7, -1.8, -1.0, -0.4, 0.2, 0.8, 13.0]],
  [2.6, [-1.4, -0.6, 0.2]], [2.8, [-1.0, -0.2]], [3.0, [0.8, -0.5]], [3.2, [-1.2, 0.6]],
  [3.3, [-2.6, -1.6, -0.8, 0, 0.8, 1.6]], [3.4, [-3.2, -2.4, -1.6, -0.8, 0, 0.8, 1.6, 2.4, 4.2]],
  [3.5, [-4.3, -3.6, -2.8, -2.0, -1.2, -0.4, 0.4, 1.2, 2.0, 2.8, 5.6, 7.5]],
  [3.6, [-3.2, -2.4, -1.6, -0.8, 0, 0.8, 1.6, 2.4]], [3.7, [-3.0, -2.2, -1.4, -0.6, 0.2, 1.0, 1.8, 3.0]],
  [3.8, [-2.6, -1.8, -1.0, -0.2, 0.6, 1.4, 2.2]], [3.9, [-3.8, -2.4, -1.6, -0.8, 0, 0.8, 1.6, 2.6]],
  [4.0, [-3.0, -2.0, -1.2, -0.4, 0.4, 1.2, 2.0, 3.4]], [4.1, [-2.6, -1.6, -0.8, 0, 0.8, 1.6]],
  [4.2, [-2.0, -1.2, -0.4, 0.4, 1.2, 3.8]], [4.3, [-3.4, -1.6, -0.8, 0, 0.8]], [4.4, [-1.2, -0.4, 0.4, 1.4]],
  [4.5, [-0.8, 0.2]], [4.8, [-0.4, 0.0]], [5.0, [-1.0, 0.4]], [5.2, [2.5, -0.3]], [5.5, [-1.2, 0.2]],
  [5.7, [-2.0, -0.8, 0.4, 1.2]], [5.8, [-3.0, -2.2, -1.4, -0.6, 0.2, 1.0, 1.8]],
  [5.9, [-3.6, -2.6, -1.8, -1.0, -0.2, 0.6, 1.4, 2.2]], [6.0, [-3.2, -2.4, -1.6, -0.8, 0, 0.8, 1.6, 2.4, 5.0]],
  [6.1, [-3.8, -2.8, -2.0, -1.2, -0.4, 0.4, 1.2, 2.0, 3.0, 7.3, 5.5]],
  [6.2, [-3.4, -2.6, -1.8, -1.0, -0.2, 0.6, 1.4, 2.2, 4.0, 8.0, 6.5]],
  [6.3, [-3.0, -2.2, -1.4, -0.6, 0.2, 1.0, 1.8, 2.6]], [6.4, [-3.6, -2.6, -1.8, -1.0, -0.2, 0.6, 1.4, 2.2]],
  [6.5, [-4.5, -2.2, -1.4, -0.6, 0.2, 1.0, 1.8]], [6.6, [-1.8, -1.0, -0.2, 0.6, 1.4, 2.4]],
  [6.8, [-1.4, -0.4, 0.6, 1.6]], [7.0, [-1.0, 0, 1.0, 2.0]], [7.2, [-2.6, -1.2, -0.2, 0.8, 1.8]],
  [7.4, [-2.2, -1.4, -0.6, 0.2, 1.0, 1.8, 2.6]], [7.5, [-4.1, -3.0, -2.0, -1.2, -0.4, 0.4, 1.2, 2.0, 3.0]],
  [7.6, [-2.6, -1.6, -0.8, 0, 0.8, 1.6, 2.4, 3.4, 5.0]],
  [7.7, [-3.2, -2.2, -1.4, -0.6, 0.2, 1.0, 1.8, 2.6, 3.6, 7.8, 6.8]],
  [7.8, [-2.8, -2.0, -1.2, -0.4, 0.4, 1.2, 2.0, 2.8, 4.0, 7.2]],
  [7.9, [-3.2, -2.4, -1.6, -0.8, 0, 0.8, 1.6, 2.4, 3.4, 6.5]],
  [8.0, [-2.2, -1.4, -0.6, 0.2, 1.0, 1.8, 2.8, 4.2, 7.7]], [8.1, [-1.8, -1.0, -0.2, 0.6, 1.4, 2.2]],
  [8.2, [-1.4, -0.6, 0.2, 1.0, 1.8, 7.7]], [8.4, [-1.0, 0, 1.0, 2.0]], [8.6, [-0.6, 0.4, 1.2]],
  [8.8, [-1.4, -0.2, 0.8, 2.4]], [9.0, [-1.2, 0, 3.8, 1.0]], [9.2, [-0.6, 0.6, -1.0]],
  [9.4, [0.2, 1.4, -0.4]], [9.6, [0.0, -0.6, 1.6]], [9.8, [2.0, -0.2]], [10.5, [0.4]],
  [12.3, [0.2]], [12.8, [0.8]], [13.3, [0.1]], [14.0, [4.8]], [15.2, [0.5]],
];
const cefTadCwresCore: Cols = [
  [0.95, [-3.3, -2.7, -2.1, -1.5, -0.9, -0.3, 0.3, 0.9, 1.5, 2.1, 2.7, 3.3, 3.9]],
  [1.05, [-3.3, -2.7, -2.1, -1.5, -0.9, -0.3, 0.3, 0.9, 1.5, 2.1, 2.7, 3.3, 3.9, 4.5]],
  [1.15, [-3.5, -2.9, -2.3, -1.7, -1.1, -0.5, 0.1, 0.7, 1.3, 1.9, 2.5, 3.1, 3.7]],
  [1.25, [-3.1, -2.5, -1.9, -1.3, -0.7, -0.1, 0.5, 1.1, 1.7, 2.3, 2.9]],
  [1.35, [-2.7, -2.1, -1.5, -0.9, -0.3, 0.3, 0.9, 1.5, 2.1, 2.7]], [1.45, [-2.4, -1.7, -1.1, -0.5, 0.1, 0.7, 1.3, 1.9]],
  [1.85, [-2.4, -1.7, -1.1, -0.5, 0.1, 0.7, 1.3, 1.9, 2.6]], [1.95, [-3.3, -2.9, -2.1, -1.5, -0.9, -0.3, 0.3, 0.9, 1.5, 2.1, 3.0]],
  [2.05, [-3.4, -2.7, -2.1, -1.5, -0.9, -0.3, 0.3, 0.9, 1.5, 2.2, 3.0]], [2.15, [-3.1, -2.3, -1.7, -1.1, -0.5, 0.1, 0.7, 1.3, 2.0]],
  [2.25, [-2.8, -1.9, -1.3, -0.7, -0.1, 0.5, 1.1, 1.8]], [2.35, [-2.0, -1.5, -0.9, -0.3, 0.3, 0.9, 1.6]],
  [3.45, [-2.8, -2.0, -1.2, -0.4, 0.4, 1.2, 2.0, 2.8]], [3.55, [-3.2, -2.4, -1.6, -0.8, 0, 0.8, 1.6, 2.4, 3.2]],
  [3.65, [-2.8, -2.0, -1.2, -0.4, 0.4, 1.2, 2.0, 2.8]], [3.75, [-2.6, -1.8, -1.0, -0.2, 0.6, 1.4, 2.2]],
  [3.85, [-3.0, -2.2, -1.4, -0.6, 0.2, 1.0, 1.8]], [3.95, [-2.8, -2.0, -1.2, -0.4, 0.4, 1.2, 2.0]],
  [4.05, [-2.4, -1.6, -0.8, 0, 0.8, 1.6, 2.6]], [4.15, [-2.0, -1.2, -0.4, 0.4, 1.2]],
  [5.85, [-2.6, -1.8, -1.0, -0.2, 0.6, 1.4, 2.2]], [5.95, [-3.0, -2.2, -1.4, -0.6, 0.2, 1.0, 1.8, 2.6]],
  [6.05, [-3.6, -2.8, -2.0, -1.2, -0.4, 0.4, 1.2, 2.0, 2.8, 4.5]], [6.15, [-3.0, -2.2, -1.4, -0.6, 0.2, 1.0, 1.8, 2.6, 3.6]],
  [6.25, [-3.8, -2.8, -2.0, -1.2, -0.4, 0.4, 1.2, 2.0]], [6.35, [-2.6, -1.8, -1.0, -0.2, 0.6, 1.4, 2.2]],
  [6.45, [-3.0, -2.2, -1.4, -0.6, 0.2, 1.0, 1.8]], [7.55, [-3.4, -2.4, -1.6, -0.8, 0, 0.8, 1.6, 2.4, 3.6]],
  [7.65, [-2.8, -2.0, -1.2, -0.4, 0.4, 1.2, 2.0, 2.8, 4.0]], [7.75, [-2.6, -1.8, -1.0, -0.2, 0.6, 1.4, 2.2, 3.2, 4.6]],
  [7.85, [-3.2, -2.4, -1.6, -0.8, 0, 0.8, 1.6, 2.4, 3.6, 5.4]], [7.95, [-2.6, -1.8, -1.0, -0.2, 0.6, 1.4, 2.2, 3.0, 4.0]],
  [8.05, [-2.0, -1.2, -0.4, 0.4, 1.2, 2.2, 3.4]],
];
const cefTadCwresSmooth: Pt[] = [[0.1, 0.2], [1, 0.05], [2, -0.2], [3.5, -0.4], [5, -0.3], [6, -0.1], [7, 0.05], [8, 0.2], [10, 0.45], [12, 0.7], [15.2, 1.2]];

// ---------- Panel H: tazobactam, time since previous dose vs CWRES ----------
const tazTadCwres: Cols = [
  [0.0, [-2.1, 0.2]], [0.2, [4.8, -1.8]], [0.3, [2.1, 1.0, -1.9]], [0.4, [0.8, -0.5]],
  [0.5, [-2.1, 0.3, 1.4]], [0.6, [0.6, -0.8]], [0.7, [-0.3, 1.6]], [0.8, [2.3, -1.0, 0.2]],
  [0.9, [-2.4, -1.7, -1.0, -0.4, 0.2, 0.8, 1.4, 2.0, 2.6, 3.2]],
  [1.0, [-2.5, -1.9, -1.3, -0.7, -0.1, 0.5, 1.1, 1.7, 2.3, 2.9, 3.5, 4.2, 5.8]],
  [1.1, [-2.3, -1.7, -1.1, -0.5, 0.1, 0.7, 1.3, 1.9, 2.5, 3.1, 3.8, 5.3]],
  [1.2, [-2.4, -1.8, -1.2, -0.6, 0, 0.6, 1.2, 1.8, 2.4, 3.0]],
  [1.3, [-2.1, -1.5, -0.9, -0.3, 0.3, 0.9, 1.5, 2.1]], [1.4, [-1.8, -1.2, -0.6, 0, 0.6, 1.2, 1.8]],
  [1.5, [-2.2, -1.0, -0.4, 0.2, 0.8, 1.6]], [1.6, [-1.6, -1.0, -0.4, 0.2, 0.8, 1.4, 2.0]],
  [1.7, [-2.0, -1.4, -0.8, -0.2, 0.4, 1.0, 1.6, 2.2]], [1.8, [-2.4, -1.8, -1.2, -0.6, 0, 0.6, 1.2, 1.8, 2.6]],
  [1.9, [-2.1, -1.5, -0.9, -0.3, 0.3, 0.9, 1.5, 2.2, 3.0, 4.5]],
  [2.0, [-2.9, -2.2, -1.6, -1.0, -0.4, 0.2, 0.8, 1.4, 2.0, 5.4]],
  [2.1, [-2.6, -2.0, -1.4, -0.8, -0.2, 0.4, 1.0, 1.6, 2.4, 3.6]],
  [2.2, [-2.2, -1.6, -1.0, -0.4, 0.2, 0.8, 1.4, 2.0]], [2.3, [-1.8, -1.2, -0.6, 0, 0.6, 1.2, 1.8, 5.6]],
  [2.4, [-1.4, -0.8, -0.2, 0.4, 1.0]], [2.5, [-1.0, -0.4, 0.2, 0.8]], [2.7, [-0.6, 0.0, -1.2]],
  [2.9, [-0.4, 0.2]], [3.1, [-0.2, -0.8]], [3.3, [-1.8, -1.0, -0.2, 0.6, 1.4]],
  [3.4, [-2.2, -1.4, -0.6, 0.2, 1.0, 1.8]], [3.5, [-2.8, -2.0, -1.2, -0.4, 0.4, 1.2, 2.0, 4.2, 5.8]],
  [3.6, [-2.4, -1.6, -0.8, 0, 0.8, 1.6, 3.5]], [3.7, [-2.0, -1.2, -0.4, 0.4, 1.2, 2.0]],
  [3.8, [-2.6, -1.8, -1.0, -0.2, 0.6, 1.4]], [3.9, [-3.0, -2.2, -1.4, -0.6, 0.2, 1.0, 1.8, 3.8]],
  [4.0, [-3.1, -2.0, -1.2, -0.4, 0.4, 1.2, 2.0]], [4.1, [-2.6, -1.6, -0.8, 0, 0.8, 1.6]],
  [4.2, [-2.0, -1.2, -0.4, 0.4, 1.2, 2.8]], [4.3, [-1.6, -0.8, 0, 0.8]], [4.4, [-1.0, -0.2, 0.6]],
  [4.6, [-0.6, 0.2, 1.2]], [4.9, [-1.4, -0.2, 1.2]], [5.2, [0.0, -0.8]], [5.4, [1.2, -1.5]],
  [5.7, [-2.2, -1.2, -0.2, 0.8]], [5.8, [-2.6, -1.8, -1.0, -0.2, 0.6, 1.4, 2.0]],
  [5.9, [-3.0, -2.2, -1.4, -0.6, 0.2, 1.0, 1.8]], [6.0, [-4.0, -2.8, -2.0, -1.2, -0.4, 0.4, 1.2, 2.0, 4.3, 3.2]],
  [6.1, [-2.5, -1.7, -0.9, -0.1, 0.7, 1.5, 5.7, 5.4]], [6.2, [-3.1, -2.3, -1.5, -0.7, 0.1, 0.9, 1.7, 4.5]],
  [6.3, [-2.0, -1.2, -0.4, 0.4, 1.2, 2.0]], [6.4, [-1.6, -0.8, 0, 0.8, 1.6]],
  [6.5, [-1.2, -0.4, 0.4, 1.2, 7.2, 5.5]], [6.6, [-0.8, 0, 0.8, 2.6]], [6.8, [-1.4, 0.4]],
  [7.0, [-0.6, 1.0, 2.0]], [7.2, [-1.8, -0.2, 0.8]], [7.4, [-2.2, -1.2, -0.4, 0.4, 1.2, 2.0, 3.7]],
  [7.5, [-1.8, -1.0, -0.2, 0.6, 1.4, 2.2, 3.4]], [7.6, [-2.4, -1.4, -0.6, 0.2, 1.0, 1.8, 2.6, 3.6]],
  [7.7, [-2.0, -1.2, -0.4, 0.4, 1.2, 2.0, 2.8, 4.0, 6.2]],
  [7.8, [-2.6, -1.6, -0.8, 0, 0.8, 1.6, 2.4, 3.2, 4.4]],
  [7.9, [-3.7, -2.2, -1.4, -0.6, 0.2, 1.0, 1.8, 2.6, 3.4, 4.2, 5.0]],
  [8.0, [-2.6, -1.8, -1.0, -0.2, 0.6, 1.4, 2.2, 3.0, 3.8, 4.6, 5.3]],
  [8.1, [-2.0, -1.2, -0.4, 0.4, 1.2, 2.0, 5.4]], [8.2, [-1.6, -0.8, 0, 0.8, 1.6]],
  [8.4, [-1.2, -0.2, 0.8]], [8.6, [-0.6, 0.4, 1.6]], [8.8, [-1.6, -0.2, 0.6]], [9.0, [-0.4, 0.4]],
  [9.2, [-0.8, 3.0, -0.4]], [9.4, [2.6, -0.2, -0.6]], [9.6, [0.6, -0.3]], [10.5, [0.9]],
  [12.2, [0.35]], [12.7, [0.45]], [13.3, [0.2]], [14.0, [2.5]], [15.2, [0.2]],
];
const tazTadCwresCore: Cols = [
  [0.95, [-2.1, -1.4, -0.7, -0.1, 0.5, 1.1, 1.7, 2.3, 2.9]], [1.05, [-2.2, -1.6, -1.0, -0.4, 0.2, 0.8, 1.4, 2.0, 2.6, 3.2, 3.9]],
  [1.15, [-2.0, -1.4, -0.8, -0.2, 0.4, 1.0, 1.6, 2.2, 2.8, 3.4]], [1.25, [-2.1, -1.5, -0.9, -0.3, 0.3, 0.9, 1.5, 2.1, 2.7]],
  [1.35, [-1.8, -1.2, -0.6, 0, 0.6, 1.2, 1.8]], [1.75, [-1.7, -1.1, -0.5, 0.1, 0.7, 1.3, 1.9]],
  [1.85, [-2.1, -1.5, -0.9, -0.3, 0.3, 0.9, 1.5, 2.2]], [1.95, [-2.4, -1.8, -1.2, -0.6, 0, 0.6, 1.2, 1.8, 2.5]],
  [2.05, [-2.5, -1.9, -1.3, -0.7, -0.1, 0.5, 1.1, 1.7, 2.3]], [2.15, [-2.3, -1.7, -1.1, -0.5, 0.1, 0.7, 1.3, 1.9]],
  [2.25, [-1.9, -1.3, -0.7, -0.1, 0.5, 1.1, 1.7]], [3.45, [-1.8, -1.0, -0.2, 0.6, 1.4]],
  [3.55, [-2.4, -1.6, -0.8, 0, 0.8, 1.6]], [3.65, [-2.0, -1.2, -0.4, 0.4, 1.2, 2.0]],
  [3.75, [-2.4, -1.6, -0.8, 0, 0.8, 1.6]], [3.85, [-2.2, -1.4, -0.6, 0.2, 1.0, 1.8]],
  [3.95, [-2.6, -1.8, -1.0, -0.2, 0.6, 1.4]], [4.05, [-2.4, -1.6, -0.8, 0, 0.8, 1.6]],
  [4.15, [-2.0, -1.2, -0.4, 0.4, 1.2]], [5.85, [-2.2, -1.4, -0.6, 0.2, 1.0, 1.8]],
  [5.95, [-2.6, -1.8, -1.0, -0.2, 0.6, 1.4, 2.2]], [6.05, [-2.4, -1.6, -0.8, 0, 0.8, 1.6]],
  [6.15, [-2.1, -1.3, -0.5, 0.3, 1.1, 1.9]], [6.25, [-2.7, -1.9, -1.1, -0.3, 0.5, 1.3]],
  [6.35, [-1.6, -0.8, 0, 0.8, 1.6]], [7.45, [-1.6, -0.8, 0, 0.8, 1.6, 2.6]],
  [7.55, [-2.0, -1.4, -0.6, 0.2, 1.0, 1.8, 2.8]], [7.65, [-1.8, -1.0, -0.2, 0.6, 1.4, 2.2, 3.0]],
  [7.75, [-2.2, -1.6, -0.8, 0, 0.8, 1.6, 2.4, 3.4, 4.6]], [7.85, [-2.0, -1.2, -0.4, 0.4, 1.2, 2.0, 2.8, 3.8]],
  [7.95, [-2.4, -1.8, -1.0, -0.2, 0.6, 1.4, 2.2, 3.0, 3.8, 4.8]], [8.05, [-2.2, -1.4, -0.6, 0.2, 1.0, 1.8, 2.6, 3.4, 4.2]],
  [8.15, [-1.8, -1.0, -0.2, 0.6, 1.4, 2.2]],
];
const tazTadCwresSmooth: Pt[] = [[0, 0.15], [1, 0.1], [2, -0.05], [3.5, -0.15], [5, -0.1], [6, -0.05], [7, 0.05], [8, 0.1], [10, 0.25], [12, 0.35], [15.2, 0.55]];

// tick values
const ticksCef = [0, 100, 200, 300, 400];
const ticksTaz = [0, 50, 100];
const ticksPredE = [0, 50, 100, 150];
const ticksPredF = [0, 10, 20, 30];
const ticksTad = [0, 5, 10, 15];
const ticksCwresCef = [-5, 0, 5, 10];
const ticksCwresTaz = [-4, -2, 0, 2, 4, 6];

interface Spec {
  id: string;
  col: 0 | 1;
  top: number;
  bottom: number;
  xDom: [number, number];
  yDom: [number, number];
  xTicks: number[];
  yTicks: number[];
  cols: Cols;
  smooth: Pt[];
  ref: "identity" | "zero";
  ylab: string[];
  xlab: string;
  xlabCx: number;
}

const FONT = "'Liberation Serif', 'Times New Roman', serif";
const RED = "#f21c1c";
const BLUE = "#1d6fe0";

const panels: Spec[] = [
  { id: "A", col: 0, top: 22.3, bottom: 153.3, xDom: [-31, 475], yDom: [-32, 476], xTicks: ticksCef, yTicks: ticksCef, cols: [...cefPredObs, ...cefPredObsCore], smooth: cefPredObsSmooth, ref: "identity", ylab: ["Ceftolozane Obs Conc", "(μg/mL)"], xlab: "Population predictions", xlabCx: 157 },
  { id: "B", col: 1, top: 22.3, bottom: 153.3, xDom: [-8.6, 138.6], yDom: [-10, 138], xTicks: ticksTaz, yTicks: ticksTaz, cols: [...tazPredObs, ...tazPredObsCore], smooth: tazPredObsSmooth, ref: "identity", ylab: ["Tazobactam Obs Conc", "(μg/mL)"], xlab: "Population predictions", xlabCx: 496 },
  { id: "C", col: 0, top: 221.5, bottom: 351.7, xDom: [-31, 475], yDom: [-30, 478], xTicks: ticksCef, yTicks: ticksCef, cols: [...cefIpredObs, ...cefIpredObsCore], smooth: cefIpredObsSmooth, ref: "identity", ylab: ["Ceftolozane Obs Conc", "(μg/mL)"], xlab: "Individual predictions", xlabCx: 157 },
  { id: "D", col: 1, top: 221.5, bottom: 351.7, xDom: [-8.8, 138.4], yDom: [-9.6, 138.6], xTicks: ticksTaz, yTicks: ticksTaz, cols: [...tazIpredObs, ...tazIpredObsCore], smooth: tazIpredObsSmooth, ref: "identity", ylab: ["Tazobactam Obs Conc", "(μg/mL)"], xlab: "Individual predictions", xlabCx: 496 },
  { id: "E", col: 0, top: 425, bottom: 551, xDom: [-10.1, 172.7], yDom: [-6.9, 14.3], xTicks: ticksPredE, yTicks: ticksCwresCef, cols: [...cefPredCwres, ...cefPredCwresCore], smooth: cefPredCwresSmooth, ref: "zero", ylab: ["Conditional weighted", "residuals"], xlab: "Population predictions", xlabCx: 156 },
  { id: "F", col: 1, top: 425, bottom: 550.5, xDom: [-2.07, 34.3], yDom: [-4.9, 8.16], xTicks: ticksPredF, yTicks: ticksCwresTaz, cols: [...tazPredCwres, ...tazPredCwresCore], smooth: tazPredCwresSmooth, ref: "zero", ylab: ["Conditional weighted", "residuals"], xlab: "Population predictions", xlabCx: 496 },
  { id: "G", col: 0, top: 622.7, bottom: 749.3, xDom: [-0.98, 16.26], yDom: [-6.9, 14.4], xTicks: ticksTad, yTicks: ticksCwresCef, cols: [...cefTadCwres, ...cefTadCwresCore], smooth: cefTadCwresSmooth, ref: "zero", ylab: ["Conditional weighted", "residuals"], xlab: "Time since previous dose (hr)", xlabCx: 156 },
  { id: "H", col: 1, top: 623.3, bottom: 749, xDom: [-1.0, 16.2], yDom: [-4.86, 8.06], xTicks: ticksTad, yTicks: ticksCwresTaz, cols: [...tazTadCwres, ...tazTadCwresCore], smooth: tazTadCwresSmooth, ref: "zero", ylab: ["Conditional weighted", "residuals"], xlab: "Time since previous dose", xlabCx: 493 },
];

const colLayout = [
  { left: 59, right: 270, letterX: 17, ylab1: 12.5, ylab2: 25.5, tickGap: 7.5 },
  { left: 386, right: 597, letterX: 382, ylab1: 333, ylab2: 345.5, tickGap: 13 },
];

function Panel({ s }: { s: Spec }) {
  const L = colLayout[s.col];
  const x = d3.scaleLinear().domain(s.xDom).range([L.left, L.right]);
  const y = d3.scaleLinear().domain(s.yDom).range([s.bottom, s.top]);
  const pts: Pt[] = s.cols.flatMap(([xv, ys]) => ys.map((yv) => [xv, yv] as Pt));
  const line = d3.line<Pt>().x((d) => x(d[0])).y((d) => y(d[1])).curve(d3.curveMonotoneX);
  const clip = `clip-${s.id}`;
  const cy = (s.top + s.bottom) / 2;
  const tick = 4.5;
  let refLine: React.ReactNode;
  if (s.ref === "identity") {
    const lo = Math.min(s.xDom[0], s.yDom[0]) - 50;
    const hi = Math.max(s.xDom[1], s.yDom[1]) + 50;
    refLine = <line x1={x(lo)} y1={y(lo)} x2={x(hi)} y2={y(hi)} stroke={RED} strokeWidth={1.1} />;
  } else {
    refLine = <line x1={L.left} y1={y(0)} x2={L.right} y2={y(0)} stroke={RED} strokeWidth={1.1} />;
  }
  return (
    <g>
      <defs>
        <clipPath id={clip}>
          <rect x={L.left} y={s.top} width={L.right - L.left} height={s.bottom - s.top} />
        </clipPath>
      </defs>
      <g clipPath={`url(#${clip})`}>
        {pts.map((p, i) => (
          <circle key={i} cx={x(p[0])} cy={y(p[1])} r={2.1} fill="none" stroke="#000" strokeWidth={1} />
        ))}
        {refLine}
        <path d={line(s.smooth) || ""} fill="none" stroke={BLUE} strokeWidth={1.4} />
      </g>
      <rect x={L.left} y={s.top} width={L.right - L.left} height={s.bottom - s.top} fill="none" stroke="#000" strokeWidth={0.9} />
      {s.xTicks.map((t) => (
        <g key={"x" + t}>
          <line x1={x(t)} x2={x(t)} y1={s.bottom} y2={s.bottom + tick} stroke="#000" strokeWidth={0.8} />
          <text x={x(t)} y={s.bottom + 15.7} textAnchor="middle" fontSize={11} fontFamily={FONT}>{t}</text>
        </g>
      ))}
      {s.yTicks.map((t) => (
        <g key={"y" + t}>
          <line x1={L.left - tick} x2={L.left} y1={y(t)} y2={y(t)} stroke="#000" strokeWidth={0.8} />
          <text x={L.left - L.tickGap} y={y(t) + 3.8} textAnchor="end" fontSize={11} fontFamily={FONT}>{t}</text>
        </g>
      ))}
      <text x={s.xlabCx} y={s.bottom + 28.5} textAnchor="middle" fontSize={12.5} fontFamily={FONT}>{s.xlab}</text>
      <text transform={`translate(${L.ylab1},${cy}) rotate(-90)`} textAnchor="middle" fontSize={12.5} fontFamily={FONT}>{s.ylab[0]}</text>
      <text transform={`translate(${L.ylab2},${cy}) rotate(-90)`} textAnchor="middle" fontSize={12.5} fontFamily={FONT}>{s.ylab[1]}</text>
      <text x={L.letterX} y={s.top - 8.5} fontSize={17} fontFamily={FONT}>{s.id}</text>
    </g>
  );
}

export default function App() {
  return (
    <svg width={600} height={787} style={{ position: "absolute", left: 0, top: 0, background: "#fff" }}>
      <rect width={600} height={787} fill="#fff" />
      {panels.map((s) => (
        <Panel key={s.id} s={s} />
      ))}
    </svg>
  );
}
